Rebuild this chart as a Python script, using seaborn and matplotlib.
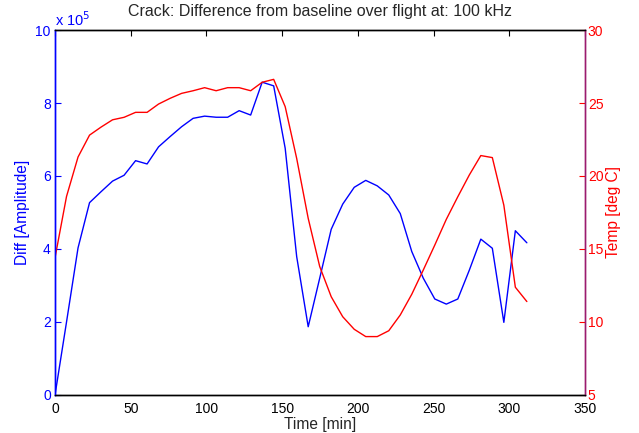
import numpy as np
import pandas as pd
import seaborn as sns
import matplotlib
matplotlib.use('Agg')
import matplotlib.pyplot as plt
from matplotlib.ticker import FuncFormatter

# sample times [min]
time_min = [0, 7.6, 15.2, 22.8, 30.4, 38.0, 45.6, 53.2, 60.8, 68.4,
            76.0, 83.6, 91.2, 98.8, 106.4, 114.0, 121.6, 129.2, 136.8, 144.4,
            152.0, 159.6, 167.2, 174.8, 182.4, 190.0, 197.6, 205.2, 212.8, 220.4,
            228.0, 235.6, 243.2, 250.8, 258.4, 266.0, 273.6, 281.2, 288.8, 296.4,
            304.0, 311.6]

# difference amplitude, in units of 1e5
diff_e5 = [0.0, 2.0, 4.03, 5.27, 5.57, 5.86, 6.02, 6.42, 6.33, 6.80,
           7.08, 7.35, 7.58, 7.64, 7.61, 7.61, 7.79, 7.67, 8.57, 8.47,
           6.76, 3.79, 1.87, 3.20, 4.54, 5.23, 5.69, 5.88, 5.73, 5.48,
           4.97, 3.93, 3.20, 2.63, 2.49, 2.63, 3.42, 4.27, 4.02, 1.99,
           4.50, 4.17]

# temperature [deg C]
temp_c = [14.4, 18.6, 21.3, 22.8, 23.35, 23.85, 24.02, 24.36, 24.36, 24.93,
          25.32, 25.66, 25.84, 26.05, 25.84, 26.05, 26.05, 25.84, 26.42, 26.62,
          24.75, 21.2, 17.1, 13.8, 11.73, 10.36, 9.5, 9.0, 9.0, 9.4,
          10.48, 11.9, 13.56, 15.27, 17.03, 18.58, 20.07, 21.4, 21.26, 18.0,
          12.38, 11.4]

x_ticks = [0, 50, 100, 150, 200, 250, 300, 350]
diff_ticks_e5 = [0, 2, 4, 6, 8, 10]
temp_ticks = [5, 10, 15, 20, 25, 30]

sns.set_style("white")
plt.rcParams['font.family'] = ['Liberation Sans', 'DejaVu Sans']
plt.rcParams['font.size'] = 10

df = pd.DataFrame({
    'time': time_min,
    'diff': np.array(diff_e5) * 1e5,
    'temp': temp_c,
})

fig = plt.figure(figsize=(6.39, 4.33), dpi=100)
ax = fig.add_axes([0.0861, 0.0878, 0.8294, 0.8429])
ax2 = ax.twinx()

sns.lineplot(data=df, x='time', y='diff', ax=ax, color='#0000ff', lw=1.0)
sns.lineplot(data=df, x='time', y='temp', ax=ax2, color='#ff0000', lw=1.0)

ax.set_xlim(0, 350)
ax.set_ylim(0, 10e5)
ax2.set_ylim(5, 30)
ax.set_xticks(x_ticks)
ax.set_yticks(np.array(diff_ticks_e5) * 1e5)
ax2.set_yticks(temp_ticks)
ax.yaxis.set_major_formatter(FuncFormatter(lambda v, p: f'{v / 1e5:g}'))

ax.set_xlabel('Time [min]', fontsize=11.2, labelpad=1)
ax.set_ylabel('Diff [Amplitude]', color='#0000ff', fontsize=11.2, labelpad=4)
ax2.set_ylabel('Temp [deg C]', color='#ff0000', fontsize=11.2, labelpad=2)
ax.set_title('Crack: Difference from baseline over flight at: 100 kHz',
             fontsize=11.5, pad=10)
ax.text(0.0, 1.003, r'x 10$^{5}$', transform=ax.transAxes,
        color='#0000ff', fontsize=10.5, ha='left', va='bottom')

for a in (ax, ax2):
    for s in a.spines.values():
        s.set_linewidth(1.0)
        s.set_color('black')
ax.spines['left'].set_color('#0000ff')
ax2.spines['left'].set_color('#0000ff')
ax2.spines['right'].set_color('#9b1b6e')
ax.spines['right'].set_color('#9b1b6e')

ax.tick_params(axis='x', direction='in', length=4, colors='black', pad=5,
               top=True, labeltop=False)
ax.tick_params(axis='y', direction='in', length=4, color='#0000ff',
               labelcolor='#0000ff', pad=3)
ax2.tick_params(axis='y', direction='in', length=4, color='#ff0000',
                labelcolor='#ff0000', pad=2)

fig.savefig('out.png', dpi=100)
